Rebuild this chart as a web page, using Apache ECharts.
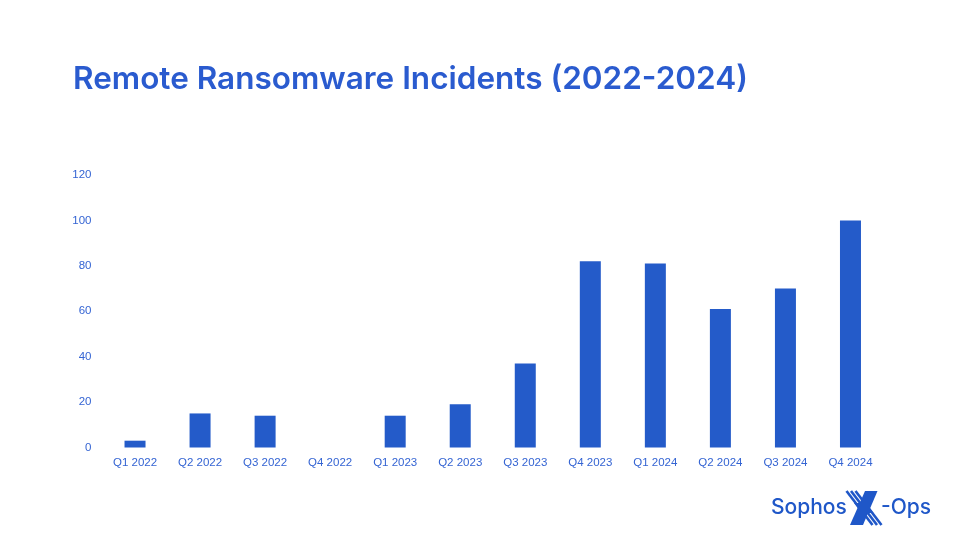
<!DOCTYPE html>
<html>
<head>
<meta charset="utf-8">
<script src="https://cdn.jsdelivr.net/npm/echarts@6/dist/echarts.min.js"></script>
<style>html,body{margin:0;padding:0;background:#fff}#c{width:960px;height:540px}</style>
</head>
<body>
<div id="c"></div>
<script>
const categories = ['Q1 2022','Q2 2022','Q3 2022','Q4 2022','Q1 2023','Q2 2023','Q3 2023','Q4 2023','Q1 2024','Q2 2024','Q3 2024','Q4 2024'];
const incidents = [3, 15, 14, 0, 14, 19, 37, 82, 81, 61, 70, 100];
const yTicks = [0, 20, 40, 60, 80, 100, 120];
const titleText = 'Remote Ransomware Incidents (2022-2024)';

const BLUE = '#245BC9';
const TEXT = '#3464D3';
const LOGO = '#1F57C8';
const chart = echarts.init(document.getElementById('c'), null, {renderer: 'canvas'});
chart.setOption({
  backgroundColor: '#ffffff',
  animation: false,
  title: {
    text: titleText,
    left: 68, top: 59,
    textStyle: {fontFamily: 'Inter', fontWeight: 600, fontSize: 31.5, color: '#2A5BCF'}
  },
  grid: {left: 102.5, right: 77, top: 175, bottom: 92.5},
  xAxis: {
    type: 'category',
    data: categories,
    axisLine: {show: false},
    axisTick: {show: false},
    axisLabel: {color: TEXT, fontFamily: 'Liberation Sans', fontSize: 11.5, margin: 9}
  },
  yAxis: {
    type: 'value',
    min: yTicks[0], max: yTicks[yTicks.length - 1], interval: 20,
    axisLine: {show: false},
    axisTick: {show: false},
    splitLine: {show: false},
    axisLabel: {color: TEXT, fontFamily: 'Liberation Sans', fontSize: 11.5, margin: 11}
  },
  series: [{
    type: 'bar',
    data: incidents,
    barWidth: 21,
    itemStyle: {color: BLUE}
  }],
  graphic: [
    {type: 'text', left: 771, top: 497, style: {text: 'Sophos', fontFamily: 'Inter', fontWeight: 500, fontSize: 21, fill: LOGO}},
    {type: 'line', shape: {x1: 846.5, y1: 491, x2: 872.5, y2: 525}, style: {stroke: LOGO, lineWidth: 2.6}},
    {type: 'line', shape: {x1: 851, y1: 491, x2: 877, y2: 525}, style: {stroke: LOGO, lineWidth: 2.6}},
    {type: 'line', shape: {x1: 855.5, y1: 491, x2: 881.5, y2: 525}, style: {stroke: LOGO, lineWidth: 2.6}},
    {type: 'polygon', shape: {points: [[854, 503], [866, 503], [873.5, 513], [861.5, 513]]}, style: {fill: LOGO}},
    {type: 'polygon', shape: {points: [[865, 491], [877.5, 491], [863, 525], [850, 525]]}, style: {fill: LOGO}},
    {type: 'text', left: 881, top: 497, style: {text: '-Ops', fontFamily: 'Inter', fontWeight: 500, fontSize: 21, fill: LOGO}}
  ]
});
</script>
</body>
</html>
